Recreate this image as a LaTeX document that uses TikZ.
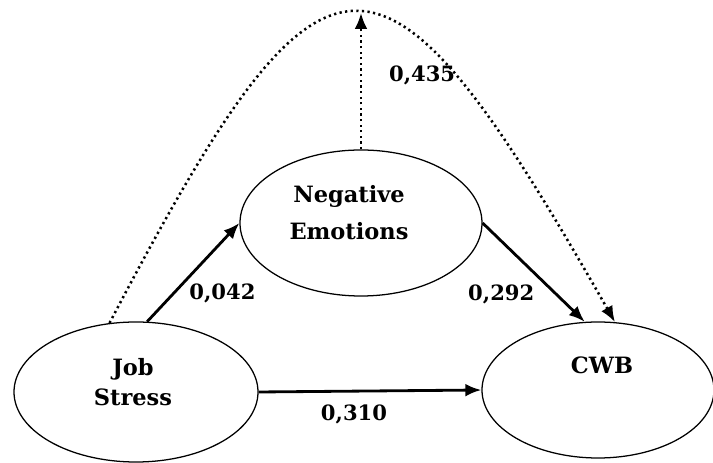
\documentclass[tikz,border=0pt]{standalone}
\usepackage{fontspec}
\setmainfont{DejaVu Serif}
\usetikzlibrary{shapes.geometric,arrows.meta,positioning}

\begin{document}
\begin{tikzpicture}

      \tikzset{latent/.style={draw, ellipse, line width=0.9pt, inner sep=0pt},
               vartext/.style={font=\fontsize{16}{21}\selectfont\bfseries, align=center, inner sep=0pt},
               coef/.style={font=\fontsize{15}{18}\selectfont\bfseries, inner sep=2pt},
               effect/.style={line width=2pt, -{Latex[length=4mm, width=3.2mm]}},
               indirect/.style={line width=1.8pt, dash pattern=on 1.6pt off 2.4pt, -{Latex[length=4mm, width=3.2mm]}}}
      \useasboundingbox (0,0) rectangle (17.825,11.575);
% Vertices
      	\node[latent, minimum width=6.1cm, minimum height=3.5cm] (js) at (3.4,1.775) {};
      	\node[latent, minimum width=6.05cm, minimum height=3.65cm] (ne) at (9.025,6.0) {};
    	\node[latent, minimum width=5.8cm, minimum height=3.4cm] (cwb) at (14.95,1.825) {};
    	\coordinate (top) at (9.025,11.25);
% Names
      	\node[vartext] (jstext) at (3.325,2.025) {Job\\Stress};
      	\node[vartext, font=\fontsize{16}{26}\selectfont\bfseries] (netext) at (8.725,6.256) {Negative\\Emotions};
      	\node[vartext] (cwbtext) at (15.05,2.45) {CWB};
%Edges
		\path (js.81) edge[effect] node[coef, midway, below right=0.18cm and 0cm, xshift=-0.2cm] {0,042} (ne.west);
		\path (ne.east) edge[effect] node[coef, midway, below left=0.2cm and 0cm, xshift=0.12cm] {0,292} (cwb.101);
		\path (js.east) edge[effect] node[coef, midway, below=0.25cm, xshift=-0.4cm] {0,310} (cwb.west);
		\path (ne.north) edge[indirect] node[coef, midway, right=0.6cm, yshift=0.15cm] {0,435} (top);
		\draw[indirect] (js.111) .. controls (8.175,13.875) and (9.5,13.825) .. (cwb.76);

	\end{tikzpicture}
\end{document}
